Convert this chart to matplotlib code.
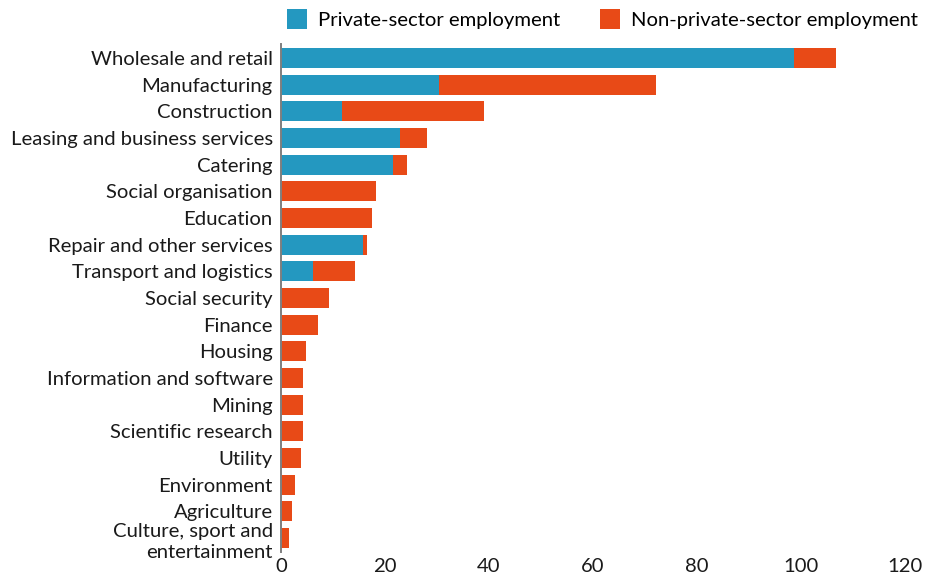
import matplotlib
matplotlib.use("Agg")
import matplotlib.pyplot as plt
from matplotlib.patches import Patch

plt.rcParams['font.family'] = ['Lato', 'DejaVu Sans']

categories = [
    "Wholesale and retail", "Manufacturing", "Construction",
    "Leasing and business services", "Catering", "Social organisation",
    "Education", "Repair and other services", "Transport and logistics",
    "Social security", "Finance", "Housing", "Information and software",
    "Mining", "Scientific research", "Utility", "Environment",
    "Agriculture", "Culture, sport and\nentertainment",
]
private = [98.7, 30.3, 11.8, 22.8, 21.6, 0, 0, 15.8, 6.2, 0, 0, 0, 0, 0, 0, 0, 0, 0, 0]
total = [106.8, 72.2, 39.0, 28.0, 24.3, 18.3, 17.5, 16.5, 14.2, 9.2, 7.1, 4.8,
         4.2, 4.2, 4.2, 3.8, 2.7, 2.1, 1.5]
non_private = [t - p for t, p in zip(total, private)]
xticks = [0, 20, 40, 60, 80, 100, 120]

BLUE = "#2498c0"
ORANGE = "#e84a17"
FS = 14.6

fig = plt.figure(figsize=(9.26, 5.77), dpi=100)
ax = fig.add_axes([281 / 926, 1 - 552 / 577, (905 - 281) / 926, (552 - 44) / 577])

y = list(range(len(categories)))
ax.barh(y, private, height=0.76, color=BLUE, edgecolor='none')
ax.barh(y, non_private, left=private, height=0.76, color=ORANGE, edgecolor='none')

ax.set_ylim(18.525, -0.525)
ax.set_xlim(0, 120)
ax.set_yticks(y)
ax.set_yticklabels(categories, fontsize=FS, color="#1a1a1a", linespacing=1.3)
ax.set_xticks(xticks)
ax.set_xticklabels([str(v) for v in xticks], fontsize=FS, color="#1a1a1a")
ax.tick_params(axis='both', length=0)
ax.tick_params(axis='y', pad=6)
ax.tick_params(axis='x', pad=4)
for s in ['top', 'right', 'bottom']:
    ax.spines[s].set_visible(False)
ax.spines['left'].set_color("#7f7f7f")
ax.spines['left'].set_linewidth(1.4)

handles = [Patch(facecolor=BLUE, label="Private-sector employment"),
           Patch(facecolor=ORANGE, label="Non-private-sector employment")]
fig.legend(handles=handles, loc='upper left', bbox_to_anchor=(279 / 926, 1 - 1 / 577),
           ncol=2, frameon=False, fontsize=FS, handlelength=1.0, handleheight=1.1,
           handletextpad=0.5, columnspacing=2.0, borderaxespad=0)

fig.savefig("out.png", dpi=100)
